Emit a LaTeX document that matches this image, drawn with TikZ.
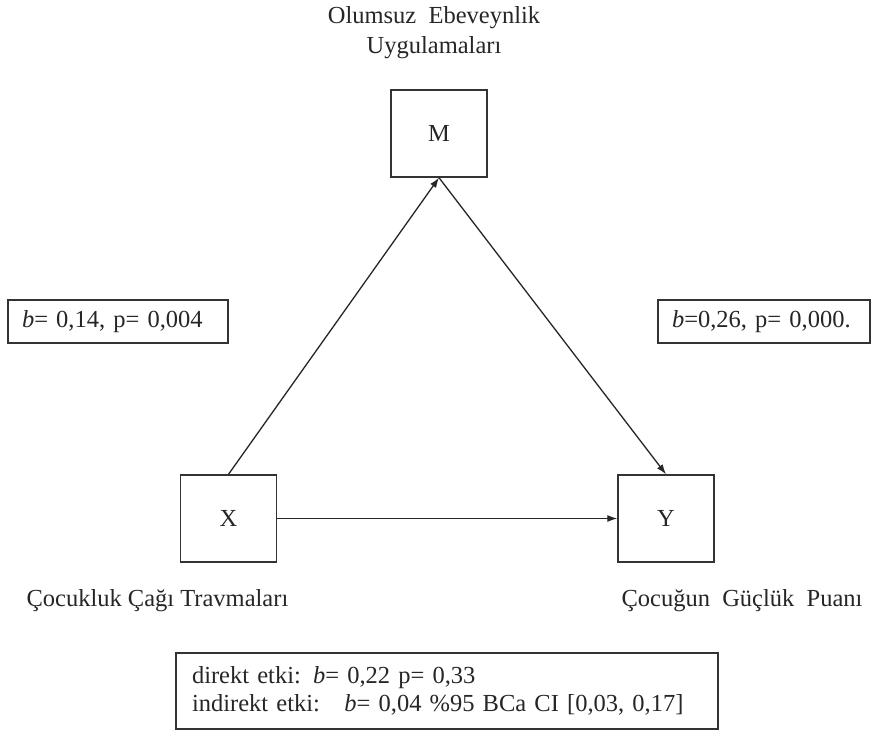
\documentclass[tikz,border=0pt]{standalone}
\usepackage{fontspec}
\setmainfont{Liberation Serif}
\usetikzlibrary{positioning,arrows.meta}

\begin{document}
\begin{tikzpicture}[
  x=1pt,y=-1pt,
  every node/.style={font=\fontsize{24.5}{28}\selectfont,text=black!85},
  var/.style={draw=black!80,line width=1.4pt,minimum width=96pt,minimum height=87pt,inner sep=0pt},
  coef/.style={draw=black!80,line width=1.4pt,minimum height=43pt,align=left,inner xsep=14pt},
  link/.style={-{Latex[length=10pt,width=7pt]},draw=black!85,line width=1.3pt}
]
\useasboundingbox (0,0) rectangle (872,733);
\node[var] (M) at (439,133.5) {M};
\node[var] (X) at (228.5,518.5) {X};
\node[var] (Y) at (666,518.5) {Y};
\node[align=center,font=\fontsize{24.5}{30}\selectfont] (Mlab) at (434,33) {Olumsuz\ \ Ebeveynlik\\Uygulamaları};
\node[anchor=base west] (Xlab) at (23,606) {Çocukluk\ Çağı\ Travmaları};
\node[anchor=base west] (Ylab) at (618,606) {Çocuğun\ \ Güçlük\ \ Puanı};
\node[coef,text width=192pt] (a) at (118,321.5) {\textit{b}= 0,14,\ p= 0,004};
\node[coef,text width=194pt,inner xsep=9pt] (b) at (764,321.5) {\hspace*{5pt}\textit{b}=0,26,\ p= 0,000.};
\node[coef,text width=510pt,inner xsep=16pt,minimum height=76pt] (c) at (447,691)
  {direkt etki: \textit{b}= 0,22 p= 0,33\\indirekt etki:\ \ \ \textit{b}= 0,04 \%95 BCa CI [0,03, 0,17]};
\draw[link] (X.north) -- (M.south);
\draw[link] (M.south) -- (Y.north);
\draw[link] (X) -- (Y);
\end{tikzpicture}
\end{document}
